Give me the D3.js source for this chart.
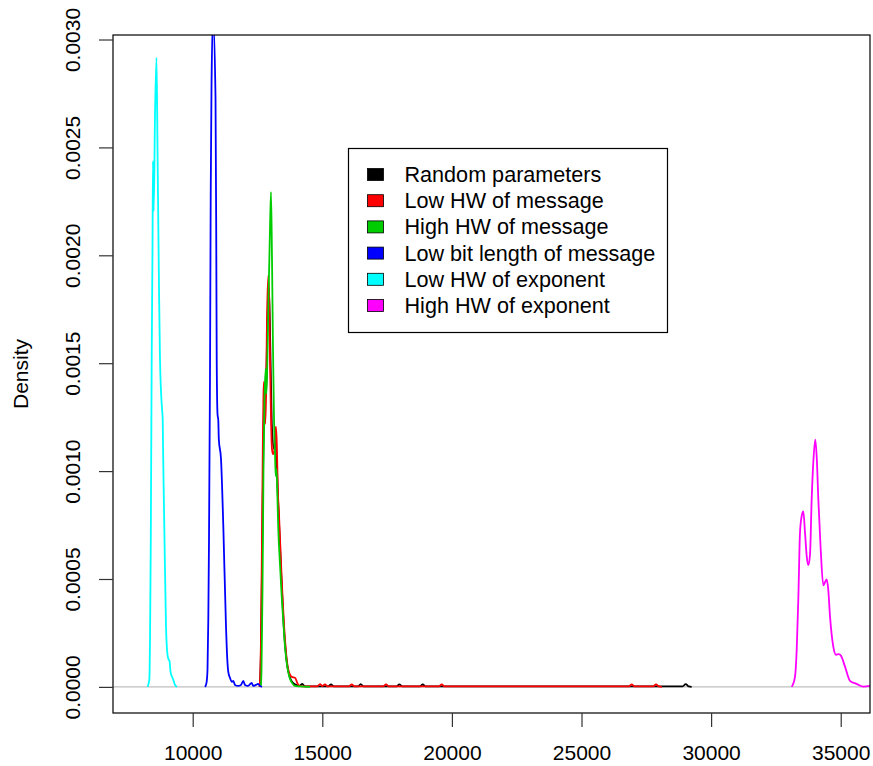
<!DOCTYPE html>
<html>
<head>
<meta charset="utf-8">
<script src="https://cdn.jsdelivr.net/npm/d3@7"></script>
<style>
  body { margin: 0; background: #fff; }
  svg { display: block; font-family: "Liberation Sans", Arial, sans-serif; }
</style>
</head>
<body>
<svg width="873" height="766"></svg>
<script>
// density curves: [value, density]
var randomParams = [
  [12589, 0], [12635, 0.000172], [12693, 0.000777], [12751, 0.001288], [12789, 0.001335],
  [12828, 0.001381], [12886, 0.001707], [12944, 0.001846], [13002, 0.001521], [13059, 0.001195],
  [13137, 0.001102], [13194, 0.001149], [13233, 0.001056], [13291, 0.00087], [13407, 0.000544],
  [13522, 0.000265], [13638, 0.000107], [13754, 0.0000419], [13870, 0.0000186], [13985, 0.0000093],
  [14120, 0.000004], [14228, 0.000014], [14330, 0.000002], [15230, 0.000002], [15336, 0.000012],
  [15440, 0.000002], [16380, 0.000002], [16482, 0.000013], [16590, 0.000002], [17870, 0.000002],
  [17971, 0.000012], [18080, 0.000002], [18770, 0.000002], [18874, 0.000012], [18980, 0.000002],
  [28900, 0.000002], [29020, 0.000013], [29140, 0.000002], [29250, 0]
];

var lowHwMessage = [
  [12577, 0], [12608, 0.0000558], [12635, 0.000219], [12666, 0.000591], [12704, 0.001102],
  [12731, 0.001358], [12751, 0.001414], [12774, 0.001358], [12797, 0.001219], [12828, 0.001335],
  [12866, 0.001707], [12917, 0.001907], [12951, 0.0018], [12982, 0.001521], [13021, 0.001242],
  [13059, 0.001102], [13098, 0.001079], [13148, 0.001093], [13183, 0.001186], [13214, 0.001205],
  [13245, 0.001126], [13283, 0.000916], [13329, 0.0008], [13434, 0.000498], [13561, 0.000219],
  [13688, 0.0000791], [13819, 0.0000465], [13947, 0.0000419], [14074, 0.0000093], [14217, 0.0000023],
  [14800, 0.000002], [14911, 0.000013], [15005, 0.000004], [15104, 0.000012], [15200, 0.000002],
  [16030, 0.000002], [16134, 0.000012], [16240, 0.000002], [17350, 0.000002], [17458, 0.000012],
  [17560, 0.000002], [19500, 0.000002], [19606, 0.000012], [19710, 0.000002], [26830, 0.000002],
  [26937, 0.000012], [27040, 0.000002], [27770, 0.000002], [27874, 0.000012], [27980, 0.000002],
  [28100, 0]
];

var highHwMessage = [
  [12627, 0], [12654, 0.0000791], [12693, 0.000451], [12731, 0.001009], [12770, 0.001335],
  [12816, 0.001474], [12840, 0.001358], [12866, 0.001428], [12924, 0.0018], [12982, 0.002126],
  [13021, 0.002293], [13059, 0.001986], [13098, 0.001567], [13137, 0.001242], [13175, 0.001079],
  [13202, 0.000977], [13233, 0.001009], [13260, 0.000916], [13302, 0.00073], [13368, 0.000567],
  [13434, 0.000419], [13503, 0.000288], [13561, 0.000186], [13638, 0.0001023], [13727, 0.0000465],
  [13831, 0.0000186], [13947, 0.0000047], [14140, 0.0000023], [14525, 0]
];

var lowBitLength = [
  [10475, 0], [10532, 0.0000186], [10571, 0.0000791], [10602, 0.000312], [10629, 0.000684],
  [10667, 0.001428], [10694, 0.002265], [10725, 0.002777], [10783, 0.0031], [10880, 0.00273],
  [10910, 0.002032], [10926, 0.001521], [10957, 0.001265], [10988, 0.001233], [11007, 0.001149],
  [11092, 0.001056], [11181, 0.000744], [11285, 0.000279], [11335, 0.000126], [11373, 0.00007],
  [11439, 0.0000419], [11516, 0.0000233], [11566, 0.0000279], [11632, 0.0000093], [11748, 0.0000047],
  [11863, 0.0000093], [11952, 0.0000279], [12018, 0.0000093], [12133, 0.0000047], [12276, 0.0000186],
  [12326, 0.0000047], [12442, 0.0000093], [12519, 0.000014], [12596, 0.0000047], [12674, 0]
];

var lowHwExponent = [
  [8256, 0], [8326, 0.0000326], [8353, 0.000219], [8383, 0.000684], [8418, 0.001521],
  [8449, 0.002032], [8468, 0.002437], [8495, 0.002205], [8546, 0.002651], [8603, 0.002916],
  [8642, 0.002498], [8700, 0.001846], [8738, 0.001521], [8816, 0.001288], [8843, 0.001242],
  [8854, 0.001126], [8904, 0.000744], [8970, 0.000279], [9028, 0.000149], [9074, 0.000126],
  [9105, 0.000121], [9144, 0.00007], [9252, 0.0000326], [9317, 0.0000093], [9394, 0]
];

var highHwExponent = [
  [33109, 0], [33237, 0.000048], [33302, 0.000172], [33364, 0.000405], [33430, 0.000716],
  [33495, 0.000792], [33557, 0.000813], [33623, 0.000715], [33688, 0.000606], [33750, 0.000564],
  [33816, 0.000614], [33880, 0.00087], [33950, 0.001056], [34020, 0.001146], [34078, 0.001056],
  [34136, 0.00087], [34228, 0.000637], [34329, 0.00047], [34394, 0.000485], [34460, 0.000498],
  [34520, 0.00045], [34587, 0.000327], [34714, 0.000187], [34819, 0.000149], [34920, 0.000152],
  [35011, 0.000144], [35166, 0.000094], [35359, 0.000028], [35617, 0.000014], [35872, 0.0000014],
  [36196, 0.000006]
];

var seriesNames = ["Random parameters", "Low HW of message", "High HW of message",
  "Low bit length of message", "Low HW of exponent", "High HW of exponent"];
var seriesData = [randomParams, lowHwMessage, highHwMessage, lowBitLength, lowHwExponent, highHwExponent];
var seriesColors = ["#000000", "#ff0000", "#00cd00", "#0000ff", "#00ffff", "#ff00ff"];

var xTicks = [10000, 15000, 20000, 25000, 30000, 35000];
var yTicks = [0, 0.0005, 0.001, 0.0015, 0.002, 0.0025, 0.003];

var svg = d3.select("svg"),
    box = {left: 113, top: 35, right: 870, bottom: 713};

var x = d3.scaleLinear().domain([6925, 36130]).range([box.left, box.right]);
var y = d3.scaleLinear().domain([-0.000121, 0.0030209]).range([box.bottom, box.top]);

svg.append("clipPath").attr("id", "plotclip")
  .append("rect")
    .attr("x", box.left).attr("y", box.top)
    .attr("width", box.right - box.left).attr("height", box.bottom - box.top);

// zero line
svg.append("line")
    .attr("x1", box.left).attr("x2", box.right)
    .attr("y1", y(0)).attr("y2", y(0))
    .attr("stroke", "#bebebe").attr("stroke-width", 1.2);

var line = d3.line()
    .x(function(d) { return x(d[0]); })
    .y(function(d) { return y(d[1]); })
    .curve(d3.curveMonotoneX);

svg.append("g").attr("clip-path", "url(#plotclip)")
  .selectAll("path")
  .data(seriesData)
  .enter().append("path")
    .attr("d", line)
    .attr("fill", "none")
    .attr("stroke", function(d, i) { return seriesColors[i]; })
    .attr("stroke-width", 1.8)
    .attr("stroke-linejoin", "round");

svg.append("rect")
    .attr("x", box.left).attr("y", box.top)
    .attr("width", box.right - box.left).attr("height", box.bottom - box.top)
    .attr("fill", "none").attr("stroke", "#000").attr("stroke-width", 1.2);

var xAxis = svg.append("g")
    .attr("transform", "translate(0," + box.bottom + ")")
    .call(d3.axisBottom(x).tickValues(xTicks).tickFormat(d3.format("d")).tickSize(14).tickPadding(18));

var yAxis = svg.append("g")
    .attr("transform", "translate(" + box.left + ",0)")
    .call(d3.axisLeft(y).tickValues(yTicks).tickFormat(d3.format(".4f")).tickSize(14));

[xAxis, yAxis].forEach(function(a) {
  a.select(".domain").remove();
  a.selectAll(".tick line").attr("stroke", "#333").attr("stroke-width", 1.2);
  a.selectAll("text").attr("font-size", 21).attr("font-family", "Liberation Sans, Arial, sans-serif").attr("fill", "#000");
});

yAxis.selectAll("text")
    .attr("transform", "rotate(-90)")
    .attr("x", 0)
    .attr("y", -40)
    .attr("dy", "0.35em")
    .attr("text-anchor", "middle");

svg.append("text")
    .attr("transform", "translate(21," + ((box.top + box.bottom) / 2) + ") rotate(-90)")
    .attr("dy", "0.35em")
    .attr("text-anchor", "middle")
    .attr("font-size", 21)
    .text("Density");

// legend
var legend = svg.append("g").attr("transform", "translate(348.5,148.5)");

legend.append("rect")
    .attr("width", 319).attr("height", 184)
    .attr("fill", "#fff").attr("stroke", "#000").attr("stroke-width", 1.2);

var item = legend.selectAll("g.item")
  .data(seriesNames)
  .enter().append("g")
    .attr("class", "item")
    .attr("transform", function(d, i) { return "translate(0," + (26 + i * 26.2) + ")"; });

item.append("rect")
    .attr("x", 19).attr("y", -6)
    .attr("width", 16).attr("height", 12)
    .attr("fill", function(d, i) { return seriesColors[i]; })
    .attr("stroke", "#000").attr("stroke-width", 0.8);

item.append("text")
    .attr("x", 56)
    .attr("dy", "0.35em")
    .attr("font-size", 21.6)
    .text(function(d) { return d; });
</script>
</body>
</html>
